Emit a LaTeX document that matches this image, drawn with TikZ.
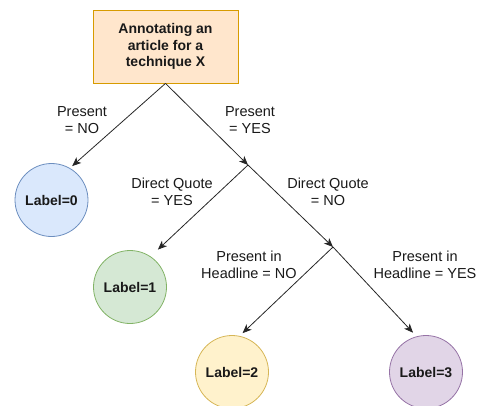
\documentclass[tikz,border=0pt]{standalone}
\usepackage{fontspec}
\setmainfont{Liberation Sans}
\usepackage{tikz}
\usetikzlibrary{arrows.meta}

\definecolor{rootfill}{HTML}{FFE6CC}
\definecolor{rootline}{HTML}{D79B00}
\definecolor{bluefill}{HTML}{DAE8FC}
\definecolor{blueline}{HTML}{6C8EBF}
\definecolor{greenfill}{HTML}{D5E8D4}
\definecolor{greenline}{HTML}{82B366}
\definecolor{yellowfill}{HTML}{FFF2CC}
\definecolor{yellowline}{HTML}{D6B656}
\definecolor{purplefill}{HTML}{E1D5E7}
\definecolor{purpleline}{HTML}{9673A6}

\begin{document}
\begin{tikzpicture}[x=1pt, y=-1pt,
    txt/.style={font=\fontsize{14.5}{16.8}\selectfont, text=black!90},
    leaf/.style={circle, draw, line width=0.8pt, minimum size=73pt, inner sep=0pt, txt, font=\fontsize{14}{16.8}\selectfont\bfseries},
    cond/.style={txt, align=center, inner sep=0pt},
    arr/.style={-{Stealth[length=9pt, width=7.5pt, inset=2.5pt]}, line width=0.8pt, black!85}]
            \useasboundingbox (0,0) rectangle (479,405);
            % Nodes
            \node[draw=rootline, fill=rootfill, line width=0.8pt, minimum width=145pt, minimum height=73pt, align=center, txt, font=\fontsize{14}{16.3}\selectfont\bfseries] (root) at (165.5, 46.5) {Annotating an\\article for a\\technique X};
            \coordinate (j1) at (248, 165);
            \coordinate (j2) at (333, 247);
            \node[leaf, draw=blueline, fill=bluefill] (c0) at (51.5, 200) {Label=0};
            \node[leaf, draw=greenline, fill=greenfill] (c1) at (130, 287) {Label=1};
            \node[leaf, draw=yellowline, fill=yellowfill] (c2) at (232, 372) {Label=2};
            \node[leaf, draw=purpleline, fill=purplefill] (c3) at (426, 372) {Label=3};
            % Edge labels
            \node[cond] (l0) at (82, 120) {Present\\= NO};
            \node[cond] (l1) at (250, 120) {Present\\= YES};
            \node[cond] (l2) at (172, 192) {Direct Quote\\= YES};
            \node[cond] (l3) at (328, 192) {Direct Quote\\= NO};
            \node[cond] (l4) at (249, 265) {Present in\\Headline = NO};
            \node[cond] (l5) at (425, 265) {Present in\\Headline = YES};
            % Edges
            \draw[arr, shorten >=3pt] (root.south) -- (c0.60);
            \draw[arr] (root.south) -- (j1);
            \draw[arr, shorten >=10pt] (j1) -- (c1.56);
            \draw[arr] (j1) -- (j2);
            \draw[arr, shorten >=4pt] (j2) -- (c2.78);
            \draw[arr, shorten >=5pt] (j2) -- (c3.105);
        \end{tikzpicture}
\end{document}
